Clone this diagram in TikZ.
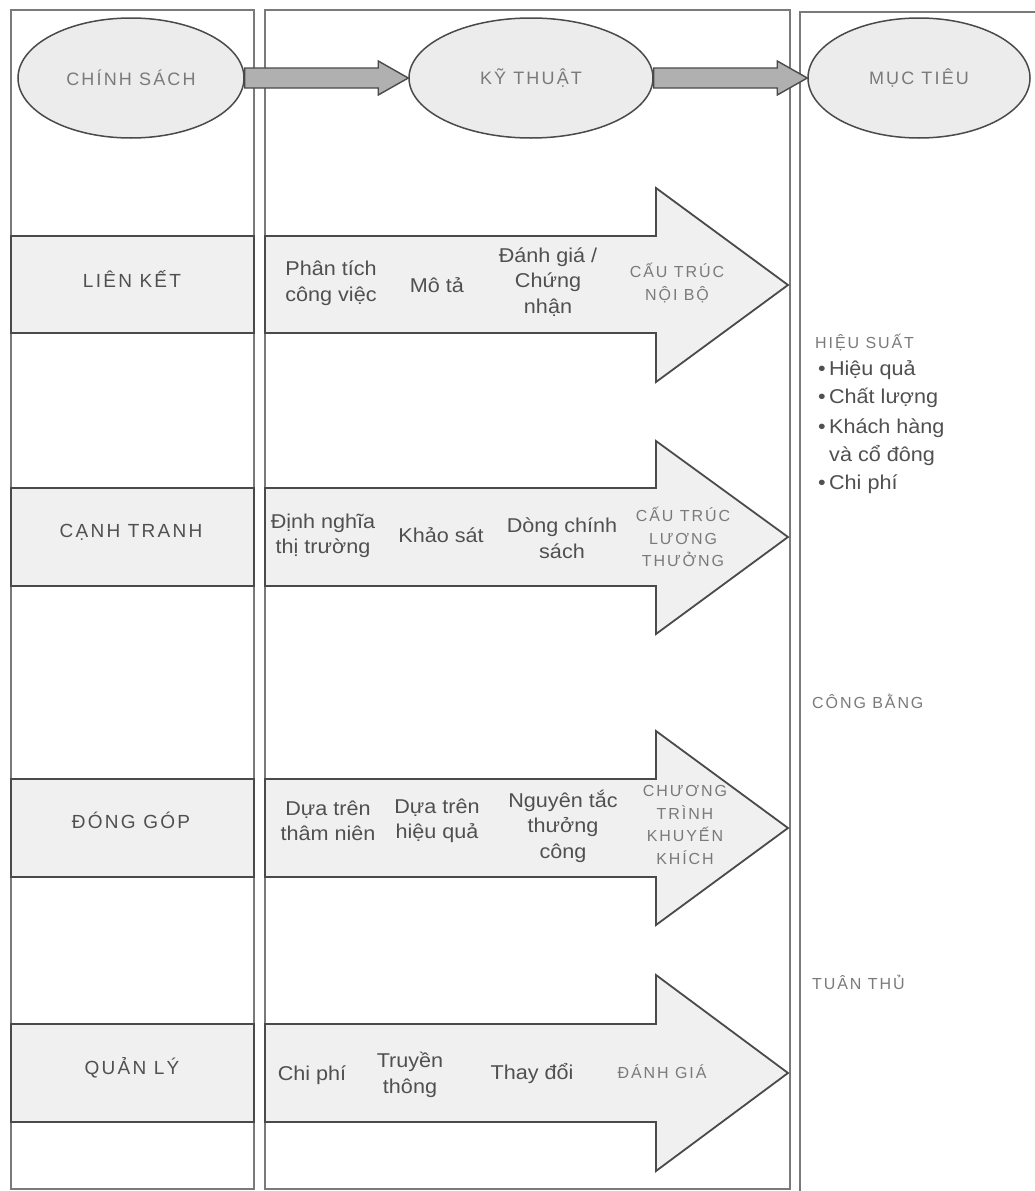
\documentclass[tikz,border=0pt]{standalone}
\usepackage{fontspec}
\setmainfont{Liberation Sans}[FakeStretch=1.08]
\newfontfamily\capsfont{Liberation Sans}[LetterSpace=12]
\usetikzlibrary{calc,shapes.geometric}
\definecolor{bandfill}{HTML}{F0F0F0}
\definecolor{ellfill}{HTML}{ECECEC}
\definecolor{blockfill}{HTML}{B0B0B0}
\definecolor{edge}{HTML}{4A4A4A}
\definecolor{colline}{HTML}{7A7A7A}
\definecolor{bodytext}{HTML}{505050}
\definecolor{capstext}{HTML}{7A7A7A}
\tikzset{
  colbox/.style={draw=colline,line width=2.4pt},
  band/.style={fill=bandfill,draw=edge,line width=1.8pt},
  bigarrow/.style={fill=bandfill,draw=edge,line width=1.8pt,line join=miter},
  blockarrow/.style={fill=blockfill,draw=edge,line width=1.4pt},
  ell/.style={ellipse,fill=ellfill,draw=edge,line width=1.5pt,inner sep=0pt,minimum height=120pt,
    font=\capsfont\fontsize{18}{20}\selectfont,text=capstext},
  body/.style={inner sep=0pt,align=center,text=bodytext,font=\fontsize{20}{25.5}\selectfont},
  capsin/.style={inner sep=0pt,align=center,text=capstext,font=\capsfont\fontsize{16}{22.5}\selectfont},
  rowlabel/.style={inner sep=0pt,text=bodytext,font=\capsfont\fontsize{19}{22}\selectfont},
  goal/.style={inner sep=0pt,anchor=west,text=capstext,font=\capsfont\fontsize{16}{18}\selectfont},
  item/.style={inner sep=0pt,anchor=west,text=bodytext,font=\fontsize{20}{24}\selectfont},
}
\begin{document}
\begin{tikzpicture}[x=1pt,y=-1pt]
\useasboundingbox (0,0) rectangle (1035,1191);
\fill[white] (0,0) rectangle (1035,1191);

% columns
\draw[colbox] (11,10) rectangle (254,1189);
\draw[colbox] (265,10) rectangle (790,1189);
\draw[colbox] (800,1191) -- (800,12) -- (1036,12);

% header ellipses
\node[ell,minimum width=226pt] (e1) at (131,78) {CHÍNH SÁCH};
\node[ell,minimum width=244pt] (e2) at (531,78) {KỸ THUẬT};
\node[ell,minimum width=222pt] (e3) at (919,78) {MỤC TIÊU};

\draw[blockarrow] ($(e1.east)+(0,-10)$) -- ($(e2.west)+(-30,-10)$) -- ($(e2.west)+(-30,-17)$) -- (e2.west)
  -- ($(e2.west)+(-30,17)$) -- ($(e2.west)+(-30,10)$) -- ($(e1.east)+(0,10)$) -- cycle;
\draw[blockarrow] ($(e2.east)+(0,-10)$) -- ($(e3.west)+(-30,-10)$) -- ($(e3.west)+(-30,-17)$) -- (e3.west)
  -- ($(e3.west)+(-30,17)$) -- ($(e3.west)+(-30,10)$) -- ($(e2.east)+(0,10)$) -- cycle;

% row bands in column 1
\draw[band] (11,236) rectangle (254,333);
\draw[band] (11,488) rectangle (254,586);
\draw[band] (11,779) rectangle (254,877);
\draw[band] (11,1024) rectangle (254,1122);

% big arrows in column 2
\draw[bigarrow] (265,236) -- (656,236) -- (656,188) -- (788,285) -- (656,382) -- (656,333) -- (265,333) -- cycle;
\draw[bigarrow] (265,488) -- (656,488) -- (656,441) -- (788,537) -- (656,634) -- (656,586) -- (265,586) -- cycle;
\draw[bigarrow] (265,779) -- (656,779) -- (656,731) -- (788,828) -- (656,925) -- (656,877) -- (265,877) -- cycle;
\draw[bigarrow] (265,1024) -- (656,1024) -- (656,975) -- (788,1073) -- (656,1171) -- (656,1122) -- (265,1122) -- cycle;

% column 1 labels
\node[rowlabel] (p1) at (132,279) {LIÊN KẾT};
\node[rowlabel] (p2) at (131,532) {CẠNH TRANH};
\node[rowlabel] (p3) at (131,820) {ĐÓNG GÓP};
\node[rowlabel] (p4) at (132,1068) {QUẢN LÝ};

% row 1
\node[body] (r1a) at (331,283) {Phân tích\\công việc};
\node[body] (r1b) at (437,285) {Mô tả};
\node[body] (r1c) at (548,282) {Đánh giá /\\Chứng\\nhận};
\node[capsin] (r1d) at (677,283) {CẤU TRÚC\\NỘI BỘ};

% row 2
\node[body] (r2a) at (323,536) {Định nghĩa\\thị trường};
\node[body] (r2b) at (441,535) {Khảo sát};
\node[body] (r2c) at (562,538) {Dòng chính\\sách};
\node[capsin] (r2d) at (683,537) {CẤU TRÚC\\LƯƠNG\\THƯỞNG};

% row 3
\node[body] (r3a) at (328,821) {Dựa trên\\thâm niên};
\node[body] (r3b) at (437,821) {Dựa trên\\hiệu quả};
\node[body] (r3c) at (563,826) {Nguyên tắc\\thưởng\\công};
\node[capsin] (r3d) at (685,825) {CHƯƠNG\\TRÌNH\\KHUYẾN\\KHÍCH};

% row 4
\node[body] (r4a) at (312,1075) {Chi phí};
\node[body] (r4b) at (410,1075) {Truyền\\thông};
\node[body] (r4c) at (532,1073) {Thay đổi};
\node[capsin] (r4d) at (662,1072) {ĐÁNH GIÁ};

% column 3 goals
\node[goal] (g1) at (815,343) {HIỆU SUẤT};
\node[item] (g1a) at (818,370) {•\,Hiệu quả};
\node[item] (g1b) at (818,398) {•\,Chất lượng};
\node[item] (g1c) at (818,428) {•\,Khách hàng};
\node[item] (g1d) at (829,455) {và cổ đông};
\node[item] (g1e) at (818,484) {•\,Chi phí};
\node[goal] (g2) at (812,701) {CÔNG BẰNG};
\node[goal] (g3) at (812,982) {TUÂN THỦ};
\end{tikzpicture}
\end{document}
